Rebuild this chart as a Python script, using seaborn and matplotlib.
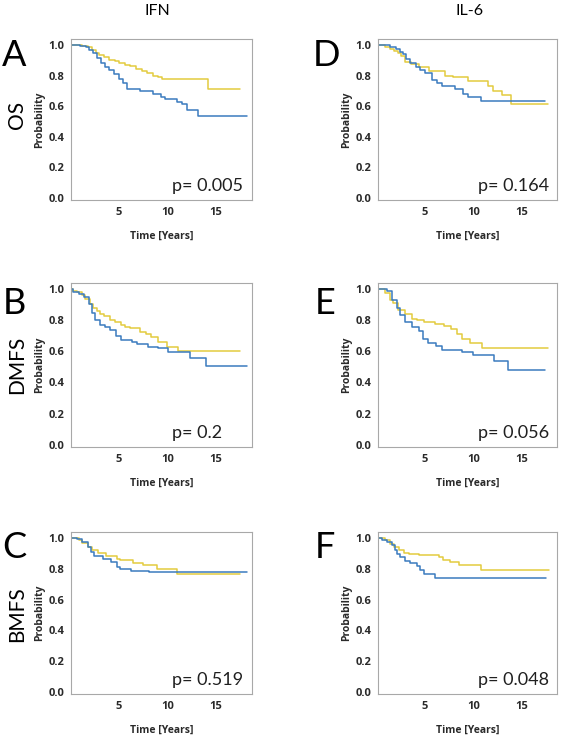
import pandas as pd
import matplotlib
matplotlib.use("Agg")
import matplotlib.pyplot as plt
import seaborn as sns

# ---- text / labels ----
col_titles = ["IFN", "IL-6"]
row_titles = ["OS", "DMFS", "BMFS"]
panel_letters = [["A", "D"], ["B", "E"], ["C", "F"]]
p_texts = [["p= 0.005", "p= 0.164"], ["p= 0.2", "p= 0.056"], ["p= 0.519", "p= 0.048"]]
y_ticks = [0.0, 0.2, 0.4, 0.6, 0.8, 1.0]
x_ticks = [5, 10, 15]

# ---- Kaplan-Meier steps (time in years, survival) ----
# IFN / OS
ifn_os_yellow_t = [0, 1.2, 1.8, 2.3, 2.7, 3.0, 3.5, 4.0, 4.6, 5.0, 5.6, 6.2, 6.8, 7.4, 7.9, 8.5, 9.0, 9.5, 14.2, 17.5]
ifn_os_yellow_s = [1.0, 0.995, 0.985, 0.97, 0.95, 0.935, 0.92, 0.905, 0.895, 0.885, 0.87, 0.86, 0.845, 0.83, 0.815, 0.80, 0.79, 0.775, 0.71, 0.71]
ifn_os_blue_t = [0, 1.0, 1.6, 2.0, 2.4, 2.8, 3.2, 3.6, 4.0, 4.5, 5.0, 5.4, 5.85, 7.2, 8.5, 9.3, 9.8, 11.0, 11.5, 12.0, 13.2, 18.2]
ifn_os_blue_s = [1.0, 0.995, 0.985, 0.97, 0.945, 0.915, 0.885, 0.855, 0.835, 0.81, 0.78, 0.75, 0.715, 0.70, 0.678, 0.66, 0.646, 0.63, 0.613, 0.576, 0.538, 0.538]
# IL-6 / OS
il6_os_yellow_t = [0, 0.8, 1.3, 1.8, 2.2, 2.5, 2.9, 3.5, 4.4, 5.4, 7.1, 7.9, 9.4, 11.5, 12.0, 13.0, 13.9, 17.8]
il6_os_yellow_s = [1.0, 0.99, 0.975, 0.96, 0.945, 0.93, 0.89, 0.878, 0.855, 0.828, 0.80, 0.789, 0.767, 0.735, 0.70, 0.67, 0.615, 0.615]
il6_os_blue_t = [0, 1.35, 2.0, 2.4, 2.7, 3.0, 3.4, 4.0, 4.5, 5.0, 5.7, 6.2, 6.7, 8.1, 8.9, 9.4, 10.8, 17.5]
il6_os_blue_s = [1.0, 0.99, 0.975, 0.955, 0.94, 0.91, 0.885, 0.855, 0.84, 0.82, 0.77, 0.75, 0.735, 0.71, 0.68, 0.66, 0.635, 0.635]
# IFN / DMFS
ifn_dmfs_yellow_t = [0, 0.3, 0.7, 1.2, 1.55, 2.07, 2.4, 2.76, 3.1, 3.45, 4.1, 4.6, 5.2, 5.7, 6.2, 7.2, 7.8, 8.3, 9.0, 10.0, 11.1, 17.5]
ifn_dmfs_yellow_s = [1.0, 0.99, 0.98, 0.96, 0.937, 0.903, 0.88, 0.86, 0.84, 0.827, 0.805, 0.79, 0.772, 0.76, 0.75, 0.728, 0.71, 0.695, 0.662, 0.63, 0.60, 0.60]
ifn_dmfs_blue_t = [0, 0.3, 0.9, 1.4, 1.9, 2.24, 2.6, 3.1, 3.6, 4.1, 4.7, 5.2, 6.4, 6.9, 8.0, 9.0, 10.1, 12.3, 14.0, 18.2]
ifn_dmfs_blue_s = [1.0, 0.985, 0.97, 0.947, 0.903, 0.85, 0.805, 0.772, 0.755, 0.739, 0.70, 0.673, 0.662, 0.645, 0.63, 0.62, 0.595, 0.555, 0.505, 0.505]
# IL-6 / DMFS
il6_dmfs_yellow_t = [0, 0.87, 1.37, 1.71, 2.2, 2.9, 3.6, 4.2, 4.9, 6.0, 7.0, 7.65, 8.3, 8.8, 9.7, 10.9, 17.8]
il6_dmfs_yellow_s = [1.0, 0.976, 0.93, 0.91, 0.866, 0.843, 0.81, 0.80, 0.788, 0.777, 0.766, 0.744, 0.711, 0.677, 0.656, 0.623, 0.623]
il6_dmfs_blue_t = [0, 1.03, 1.54, 2.05, 2.4, 2.9, 3.6, 4.4, 4.8, 5.3, 6.1, 6.8, 8.8, 10.0, 12.2, 13.65, 17.5]
il6_dmfs_blue_s = [1.0, 0.99, 0.93, 0.876, 0.832, 0.788, 0.755, 0.733, 0.677, 0.656, 0.634, 0.612, 0.594, 0.575, 0.54, 0.48, 0.48]
# IFN / BMFS
ifn_bmfs_yellow_t = [0, 0.94, 1.28, 1.8, 2.3, 2.85, 3.7, 4.8, 5.1, 6.5, 7.5, 8.9, 11.0, 17.5]
ifn_bmfs_yellow_s = [1.0, 0.989, 0.967, 0.944, 0.922, 0.90, 0.884, 0.867, 0.856, 0.84, 0.822, 0.80, 0.765, 0.765]
ifn_bmfs_blue_t = [0, 0.76, 1.28, 1.8, 2.15, 2.5, 3.4, 4.2, 4.8, 5.1, 6.3, 8.1, 18.2]
ifn_bmfs_blue_s = [1.0, 0.996, 0.978, 0.944, 0.911, 0.884, 0.867, 0.844, 0.811, 0.796, 0.785, 0.778, 0.778]
# IL-6 / BMFS
il6_bmfs_yellow_t = [0, 0.87, 1.39, 1.74, 2.26, 2.8, 3.3, 4.34, 6.4, 6.9, 7.6, 8.5, 10.8, 17.9]
il6_bmfs_yellow_s = [1.0, 0.986, 0.964, 0.942, 0.92, 0.904, 0.898, 0.887, 0.876, 0.86, 0.842, 0.827, 0.79, 0.79]
il6_bmfs_blue_t = [0, 0.52, 1.04, 1.56, 1.9, 2.08, 2.43, 2.95, 3.47, 4.17, 4.5, 4.86, 6.07, 17.6]
il6_bmfs_blue_s = [1.0, 0.99, 0.975, 0.953, 0.92, 0.898, 0.876, 0.853, 0.838, 0.82, 0.795, 0.764, 0.74, 0.74]

curves = [
    [(ifn_os_yellow_t, ifn_os_yellow_s, ifn_os_blue_t, ifn_os_blue_s),
     (il6_os_yellow_t, il6_os_yellow_s, il6_os_blue_t, il6_os_blue_s)],
    [(ifn_dmfs_yellow_t, ifn_dmfs_yellow_s, ifn_dmfs_blue_t, ifn_dmfs_blue_s),
     (il6_dmfs_yellow_t, il6_dmfs_yellow_s, il6_dmfs_blue_t, il6_dmfs_blue_s)],
    [(ifn_bmfs_yellow_t, ifn_bmfs_yellow_s, ifn_bmfs_blue_t, ifn_bmfs_blue_s),
     (il6_bmfs_yellow_t, il6_bmfs_yellow_s, il6_bmfs_blue_t, il6_bmfs_blue_s)],
]

palette = {"yellow": "#E3CB3F", "blue": "#3A7BBF"}
frame_color = "#A8A8A8"
text_color = "#2a2a2a"
bold_font = ["Open Sans", "DejaVu Sans"]

sns.set_style("white")
plt.rcParams["font.family"] = ["Lato", "DejaVu Sans"]

W, H = 563, 736
fig = plt.figure(figsize=(W / 100, H / 100), dpi=100)

# axes boxes in pixels: (left, top, right, bottom)
col_x = [(71, 252), (378, 557)]
row_y = [(39, 200), (283, 447), (532, 694)]


def px_rect(l, t, r, b):
    return [l / W, 1 - b / H, (r - l) / W, (b - t) / H]


for i in range(3):
    for j in range(2):
        l, r = col_x[j]
        t, b = row_y[i]
        ax = fig.add_axes(px_rect(l, t, r, b))
        yt, ys, bt, bs = curves[i][j]
        df = pd.concat([
            pd.DataFrame({"time": yt, "surv": ys, "group": "yellow"}),
            pd.DataFrame({"time": bt, "surv": bs, "group": "blue"}),
        ], ignore_index=True)
        sns.lineplot(data=df, x="time", y="surv", hue="group", palette=palette,
                     estimator=None, drawstyle="steps-post", linewidth=1.1,
                     legend=False, ax=ax)

        ax.set_xlim(0.1, 18.7)
        ax.set_ylim(-0.015, 1.04)
        ax.set_xticks(x_ticks)
        ax.set_yticks(y_ticks)
        ax.set_xticklabels([str(v) for v in x_ticks], fontweight="bold", family=bold_font)
        ax.set_yticklabels([f"{v:.1f}" for v in y_ticks], fontweight="bold", family=bold_font)
        ax.tick_params(direction="out", length=3, width=0.8, color=frame_color,
                       labelsize=8, labelcolor=text_color, pad=2)
        for sp in ax.spines.values():
            sp.set_visible(True)
            sp.set_color(frame_color)
            sp.set_linewidth(0.8)

        ax.set_xlabel("Time [Years]", fontsize=7.5, fontweight="bold", family=bold_font,
                      color=text_color, labelpad=9)
        ax.set_ylabel("Probability", fontsize=7.5, fontweight="bold", family=bold_font,
                      color=text_color, labelpad=2)

        ax.text(0.56, 0.055, p_texts[i][j], transform=ax.transAxes,
                fontsize=13, color="#202020", ha="left", va="baseline")

# panel letters
letter_pos = [[(14, 55), (326, 56)], [(14, 303), (325, 303)], [(14, 548), (325, 548)]]
for i in range(3):
    for j in range(2):
        x, y = letter_pos[i][j]
        fig.text(x / W, 1 - y / H, panel_letters[i][j], fontsize=26,
                 ha="center", va="center", color="black")

# row titles
row_pos = [115, 365, 614]
for name, y in zip(row_titles, row_pos):
    fig.text(17 / W, 1 - y / H, name, fontsize=15, rotation=90,
             ha="center", va="center", color="black")

# column titles
for name, x in zip(col_titles, [157, 470]):
    fig.text(x / W, 1 - 11 / H, name, fontsize=11.5, ha="center", va="center",
             color="black")

fig.savefig("out.png", dpi=100)
